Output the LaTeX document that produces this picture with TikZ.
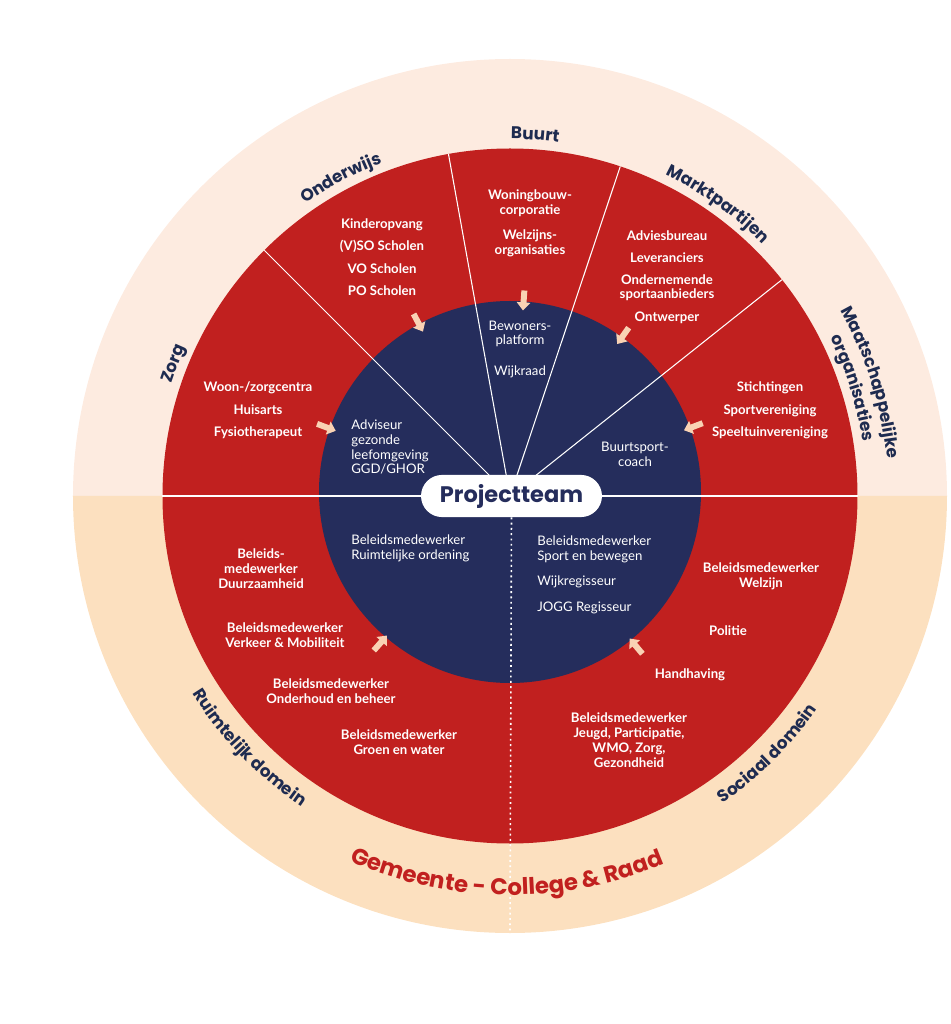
\documentclass[tikz,border=0pt]{standalone}
\usepackage{fontspec}
\setmainfont{Lato}
\newfontfamily\ringfont{Poppins}
\usetikzlibrary{arrows.meta, decorations.text}

\definecolor{gmred}{HTML}{C1201F}
\definecolor{gmnavy}{HTML}{252D5C}
\definecolor{ringpink}{HTML}{FDEBE0}
\definecolor{ringorange}{HTML}{FCE0BF}
\definecolor{arrowpeach}{HTML}{F9D2B4}
\definecolor{labelnavy}{HTML}{1E2B50}

\tikzset{
    redtext/.style={text=white, align=center, inner sep=0pt,
        font=\bfseries\fontsize{7.5}{8.5}\selectfont},
    navytext/.style={text=white, inner sep=0pt,
        font=\fontsize{7.5}{8.5}\selectfont},
    ringarc/.style={decorate, decoration={text along path, text align=center,
        text color=labelnavy, text={|\ringfont\bfseries\fontsize{9.6}{11}\selectfont|#1}}},
    pointer/.style={draw=arrowpeach, line width=3.4pt, -{Triangle[length=4.6pt, width=7.6pt]}}
}

\begin{document}
\begin{tikzpicture}[x=0.02cm, y=0.02cm]
\useasboundingbox (-510, -528) rectangle (440, 496);

% rings
\fill[ringpink] (0:437) arc[start angle=0, end angle=180, radius=437] -- cycle;
\fill[ringorange] (180:437) arc[start angle=180, end angle=360, radius=437] -- cycle;
\fill[gmred] (0, 0) circle[radius=347.5];
\fill[gmnavy] (0, 4) circle[radius=191];

\coordinate (rim-bottom) at (270:437);

% sector borders
\draw[white, line width=0.9pt] (180:347.5) -- (0:347.5);
\foreach \ang in {38.5, 71.5, 100.2, 135}
    \draw[white, line width=0.6pt] (0, 0) -- (\ang:347.5);

\node (projectteam) at (1.5, 0) [fill=white, rounded corners=12pt, minimum width=103pt,
    minimum height=24pt, text=gmnavy, font=\ringfont\bfseries\fontsize{12.8}{14}\selectfont] {Projectteam};
\draw[white, line width=0.9pt, dash pattern=on 1.1pt off 1.9pt] (projectteam.south) -- (rim-bottom);

% ring labels
\path[ringarc={Zorg}] (188.5:357) arc[start angle=188.5, end angle=128.5, radius=357];
\path[ringarc={Onderwijs}] (148:357) arc[start angle=148, end angle=88, radius=357];
\path[ringarc={Buurt}] (116:357) arc[start angle=116, end angle=56, radius=357];
\path[ringarc={Marktpartijen}] (84.5:357) arc[start angle=84.5, end angle=24.5, radius=357];
\path[ringarc={Maatschappelijke}] (47.5:379) arc[start angle=47.5, end angle=-12.5, radius=379];
\path[ringarc={organisaties}] (47.5:357) arc[start angle=47.5, end angle=-12.5, radius=357];
\path[ringarc={Ruimtelijk domein}] (196:374) arc[start angle=196, end angle=252, radius=374];
\path[ringarc={Sociaal domein}] (287:374) arc[start angle=287, end angle=343, radius=374];
\path[decorate, decoration={text along path, text align=center, text color=gmred,
    text={|\ringfont\bfseries\fontsize{13}{15}\selectfont|Gemeente - College {\&} Raad}}]
    (232:399) arc[start angle=232, end angle=307, radius=399];

\begin{scope}[every node/.style={redtext}]
    \node (zorg-list) at (-252, 85.5) {Woon-/zorgcentra\\[4.3pt]Huisarts\\[4.3pt]Fysiotherapeut};
    \node (onderwijs-list) at (-128, 239) {Kinderopvang\\[4.3pt](V)SO Scholen\\[4.3pt]VO Scholen\\[4.3pt]PO Scholen};
    \node (buurt-list) at (20, 272.5) {Woningbouw-\\corporatie\\[5.7pt]Welzijns-\\organisaties};
    \node (markt-list) at (157, 218.5) {Adviesbureau\\[3.6pt]Leveranciers\\[4pt]Ondernemende\\sportaanbieders\\[4.5pt]Ontwerper};
    \node (maatsch-list) at (260, 85.5) {Stichtingen\\[4.3pt]Sportvereniging\\[4.3pt]Speeltuinvereniging};

    \node (duurzaam) at (-249, -73) {Beleids-\\medewerker\\Duurzaamheid};
    \node (verkeer) at (-225, -139.5) {Beleidsmedewerker\\Verkeer \& Mobiliteit};
    \node (onderhoud) at (-179, -195) {Beleidsmedewerker\\Onderhoud en beheer};
    \node (groen) at (-111, -246.5) {Beleidsmedewerker\\Groen en water};

    \node (welzijn) at (251, -80.5) {Beleidsmedewerker\\Welzijn};
    \node (politie) at (218, -135) {Politie};
    \node (handhaving) at (180, -179) {Handhaving};
    \node (jeugd) at (119, -244.5) {Beleidsmedewerker\\Jeugd, Participatie,\\WMO, Zorg,\\Gezondheid};
\end{scope}

\begin{scope}[every node/.style={navytext}]
    \node (bewoners) at (10, 147) [align=center] {Bewoners-\\platform\\[8.6pt]Wijkraad};
    \node (adviseur) at (-159, 49) [anchor=west, align=left] {Adviseur\\gezonde\\leefomgeving\\GGD/GHOR};
    \node (buurtsport) at (125, 41.5) [align=center] {Buurtsport-\\coach};
    \node (ruimtelijk) at (-159, -52.5) [anchor=west, align=left] {Beleidsmedewerker\\Ruimtelijke ordening};
    \node (sport) at (27, -79) [anchor=west, align=left] {Beleidsmedewerker\\Sport en bewegen\\[5.5pt]Wijkregisseur\\[6.5pt]JOGG Regisseur};
\end{scope}

% arrows into the team
\foreach \ang [count=\i] in {159.5, 117.9, 86, 54.8, 20.7, 228.6, 310} {
    \coordinate (tail-\i) at (\ang:206);
    \coordinate (tip-\i) at (\ang:186);
    \draw[pointer] (tail-\i) -- (tip-\i);
}
\end{tikzpicture}
\end{document}
